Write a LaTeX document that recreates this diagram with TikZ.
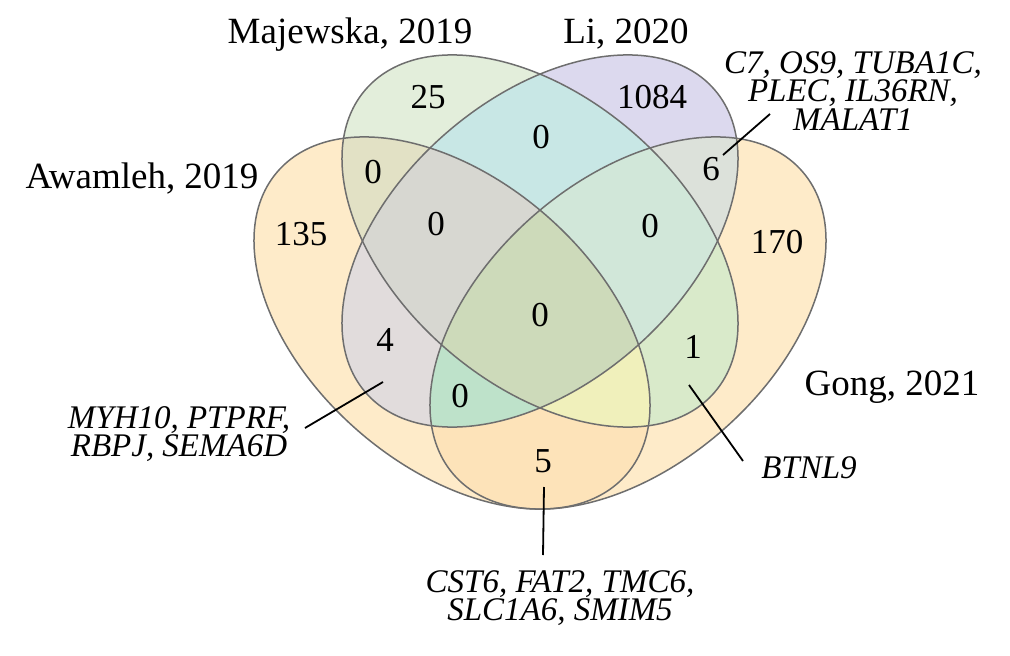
\documentclass[tikz,border=0pt]{standalone}
\usepackage{fontspec}
\setmainfont{Liberation Serif}
\definecolor{cA}{HTML}{FEEBC9}
\definecolor{cB}{HTML}{E3EEDB}
\definecolor{cC}{HTML}{DCD9EE}
\definecolor{cD}{HTML}{FEEBC9}
\definecolor{cAB}{HTML}{E2E1C5}
\definecolor{cAC}{HTML}{E1DCDC}
\definecolor{cAD}{HTML}{FDE3B9}
\definecolor{cBC}{HTML}{C8E7E5}
\definecolor{cBD}{HTML}{D9EACA}
\definecolor{cCD}{HTML}{DCE1DA}
\definecolor{cABC}{HTML}{D7D7D1}
\definecolor{cABD}{HTML}{F0F0BB}
\definecolor{cACD}{HTML}{BEE2CA}
\definecolor{cBCD}{HTML}{D1E7D9}
\definecolor{cABCD}{HTML}{CDDABA}
\definecolor{edge}{HTML}{6E6E6E}
\begin{document}
\begin{tikzpicture}[x=1pt,y=-1pt,
  eA/.style={shift={(452,323)},rotate=-41},
  eB/.style={shift={(540,241)},rotate=-41},
  eC/.style={shift={(540,241)},rotate=41},
  eD/.style={shift={(628,323)},rotate=41},
  title/.style={anchor=base,inner sep=0pt,font=\fontsize{37}{37}\selectfont},
  num/.style={anchor=base,inner sep=0pt,font=\fontsize{35}{35}\selectfont},
  gene/.style={anchor=north,inner sep=0pt,align=center,font=\fontsize{33}{28.5}\selectfont\itshape},
  leader/.style={line width=1.8pt,black}]
\useasboundingbox (0,0) rectangle (1010,656);
% single sets
\fill[cA,eA] (0,0) ellipse [x radius=231,y radius=143];
\fill[cD,eD] (0,0) ellipse [x radius=231,y radius=143];
\fill[cB,eB] (0,0) ellipse [x radius=231,y radius=143];
\fill[cC,eC] (0,0) ellipse [x radius=231,y radius=143];
% pairs
\begin{scope}\clip[eA] (0,0) ellipse [x radius=231,y radius=143];
  \fill[cAB,eB] (0,0) ellipse [x radius=231,y radius=143];\end{scope}
\begin{scope}\clip[eA] (0,0) ellipse [x radius=231,y radius=143];
  \fill[cAC,eC] (0,0) ellipse [x radius=231,y radius=143];\end{scope}
\begin{scope}\clip[eA] (0,0) ellipse [x radius=231,y radius=143];
  \fill[cAD,eD] (0,0) ellipse [x radius=231,y radius=143];\end{scope}
\begin{scope}\clip[eB] (0,0) ellipse [x radius=231,y radius=143];
  \fill[cBC,eC] (0,0) ellipse [x radius=231,y radius=143];\end{scope}
\begin{scope}\clip[eB] (0,0) ellipse [x radius=231,y radius=143];
  \fill[cBD,eD] (0,0) ellipse [x radius=231,y radius=143];\end{scope}
\begin{scope}\clip[eC] (0,0) ellipse [x radius=231,y radius=143];
  \fill[cCD,eD] (0,0) ellipse [x radius=231,y radius=143];\end{scope}
% triples
\begin{scope}\clip[eA] (0,0) ellipse [x radius=231,y radius=143];
  \clip[eB] (0,0) ellipse [x radius=231,y radius=143];
  \fill[cABC,eC] (0,0) ellipse [x radius=231,y radius=143];\end{scope}
\begin{scope}\clip[eA] (0,0) ellipse [x radius=231,y radius=143];
  \clip[eB] (0,0) ellipse [x radius=231,y radius=143];
  \fill[cABD,eD] (0,0) ellipse [x radius=231,y radius=143];\end{scope}
\begin{scope}\clip[eA] (0,0) ellipse [x radius=231,y radius=143];
  \clip[eC] (0,0) ellipse [x radius=231,y radius=143];
  \fill[cACD,eD] (0,0) ellipse [x radius=231,y radius=143];\end{scope}
\begin{scope}\clip[eB] (0,0) ellipse [x radius=231,y radius=143];
  \clip[eC] (0,0) ellipse [x radius=231,y radius=143];
  \fill[cBCD,eD] (0,0) ellipse [x radius=231,y radius=143];\end{scope}
% quadruple
\begin{scope}\clip[eA] (0,0) ellipse [x radius=231,y radius=143];
  \clip[eB] (0,0) ellipse [x radius=231,y radius=143];
  \clip[eC] (0,0) ellipse [x radius=231,y radius=143];
  \fill[cABCD,eD] (0,0) ellipse [x radius=231,y radius=143];\end{scope}
% outlines
\foreach \e in {eA,eB,eC,eD}
  \draw[edge,line width=1.5pt,\e] (0,0) ellipse [x radius=231,y radius=143];
% titles
\node[title] (tmaj) at (350,43) {Majewska, 2019};
\node[title] (tli) at (626,43) {Li, 2020};
\node[title] (tawa) at (142,188) {Awamleh, 2019};
\node[title] (tgong) at (892,395) {Gong, 2021};
% numbers
\node[num] (nB) at (428,108) {25};
\node[num] (nC) at (652,108) {1084};
\node[num] (nBC) at (541,148) {0};
\node[num] (nAB) at (373,183) {0};
\node[num] (nCD) at (711,180) {6};
\node[num] (nA) at (301,245) {135};
\node[num] (nABC) at (436,235) {0};
\node[num] (nBCD) at (650,237) {0};
\node[num] (nD) at (777,253) {170};
\node[num] (nABCD) at (540,326) {0};
\node[num] (nAC) at (385,351) {4};
\node[num] (nBD) at (693,358) {1};
\node[num] (nACD) at (460,407) {0};
\node[num] (nAD) at (543,472) {5};
% gene labels
\node[gene] (gCD) at (853,51) {C7, OS9, TUBA1C,\\PLEC, IL36RN,\\MALAT1};
\node[gene] (gAC) at (179,406) {MYH10, PTPRF,\\RBPJ, SEMA6D};
\node[gene] (gBD) at (809,456) {BTNL9};
\node[gene] (gAD) at (560,570) {CST6, FAT2, TMC6,\\SLC1A6, SMIM5};
% leaders
\coordinate (lCDa) at (723,155); \coordinate (lCDb) at (770,114);
\coordinate (lACa) at (383,382); \coordinate (lACb) at (305,428);
\coordinate (lBDa) at (689,385); \coordinate (lBDb) at (743,461);
\coordinate (lADa) at (544,487); \coordinate (lADb) at (543,555);
\draw[leader] (lCDa) -- (lCDb);
\draw[leader] (lACa) -- (lACb);
\draw[leader] (lBDa) -- (lBDb);
\draw[leader] (lADa) -- (lADb);
\end{tikzpicture}
\end{document}
